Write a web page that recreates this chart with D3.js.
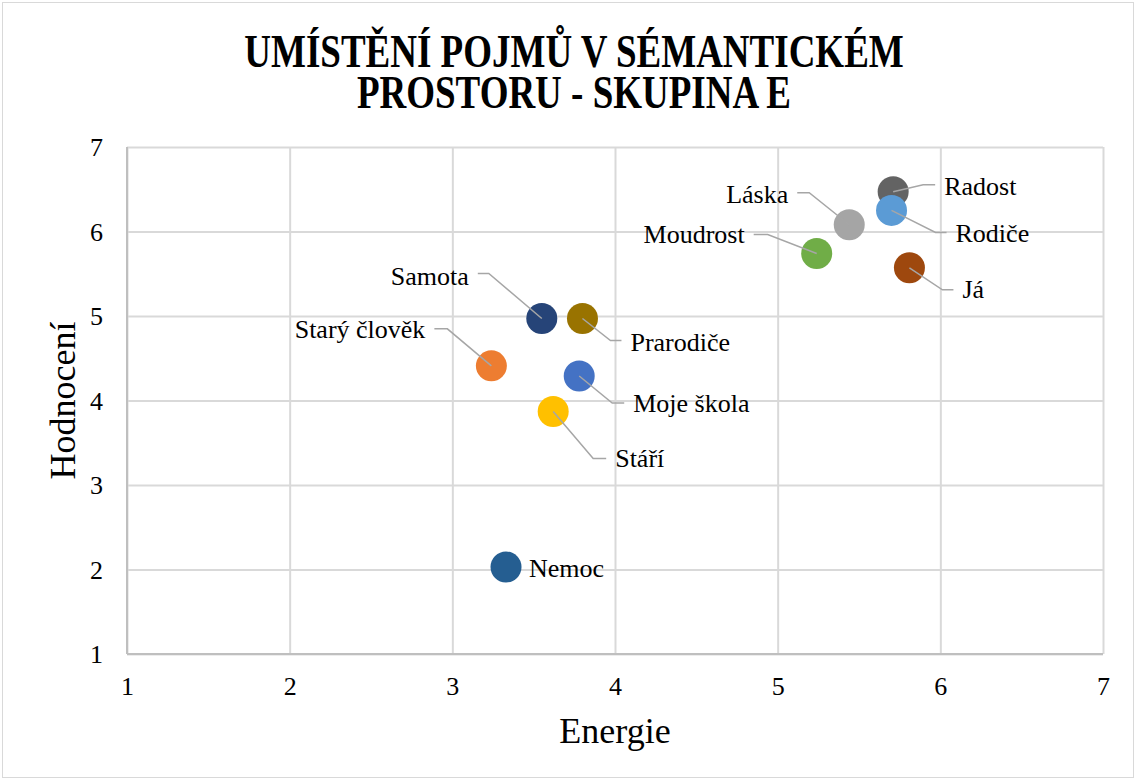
<!DOCTYPE html>
<html>
<head>
<meta charset="utf-8">
<script src="https://d3js.org/d3.v7.min.js"></script>
<style>
  html, body { margin: 0; padding: 0; background: #fff; }
  svg { display: block; }
  text { font-family: "Liberation Serif", "Times New Roman", serif; fill: #000; }
</style>
</head>
<body>
<svg id="chart" width="1136" height="780"></svg>
<script>
// Concepts placed in the semantic space (Energie × Hodnocení)
const concepts = ["Radost", "Rodiče", "Láska", "Moudrost", "Já", "Samota", "Prarodiče", "Starý člověk", "Moje škola", "Stáří", "Nemoc"];
const energie    = [5.71, 5.70, 5.44, 5.24, 5.81, 3.55, 3.80, 3.24, 3.78, 3.62, 3.33];
const hodnoceni  = [6.47, 6.25, 6.08, 5.74, 5.57, 4.97, 4.97, 4.41, 4.29, 3.87, 2.03];
const colors     = ["#636363", "#5b9bd5", "#a5a5a5", "#70ad47", "#9e480e", "#264478", "#997300", "#ed7d31", "#4472c4", "#ffc000", "#255e91"];

const xTicks = [1, 2, 3, 4, 5, 6, 7];
const yTicks = [1, 2, 3, 4, 5, 6, 7];

const titleLines = ["UMÍSTĚNÍ POJMŮ V SÉMANTICKÉM", "PROSTORU - SKUPINA E"];
const xTitle = "Energie";
const yTitle = "Hodnocení";

// Label placement around each marker: side, text offset, leader elbow offset
const labelLayout = [
  { side: "r", tx: 51, ty: 3,  ex: 30,  ey: -7 },
  { side: "r", tx: 64, ty: 32, ex: 44,  ey: 22 },
  { side: "l", tx: -61, ty: -22, ex: -40, ey: -32 },
  { side: "l", tx: -72, ty: -10, ex: -49, ey: -19 },
  { side: "r", tx: 53, ty: 30, ex: 33,  ey: 22 },
  { side: "l", tx: -73, ty: -34, ex: -53, ey: -45 },
  { side: "r", tx: 48, ty: 32, ex: 28,  ey: 22 },
  { side: "l", tx: -66, ty: -28, ex: -44, ey: -37 },
  { side: "r", tx: 54, ty: 36, ex: 33,  ey: 27 },
  { side: "r", tx: 62, ty: 56, ex: 40,  ey: 47 },
  { side: "r", tx: 23, ty: 10, ex: null, ey: null }
];

const svg = d3.select("#chart");
const W = 1136, H = 780;
const plot = { left: 127, right: 1103, top: 147, bottom: 654 };

// Outer chart frame
svg.append("rect")
  .attr("x", 2.5).attr("y", 2.5)
  .attr("width", W - 5).attr("height", H - 5)
  .attr("fill", "#fff").attr("stroke", "#d9d9d9").attr("stroke-width", 1);

const x = d3.scaleLinear().domain([1, 7]).range([plot.left, plot.right]);
const y = d3.scaleLinear().domain([1, 7]).range([plot.bottom, plot.top]);

// Gridlines
const grid = svg.append("g");
grid.append("g")
  .attr("transform", `translate(0,${plot.bottom})`)
  .call(d3.axisBottom(x).tickValues(xTicks).tickSize(-(plot.bottom - plot.top)).tickFormat(""))
  .call(g => g.select(".domain").remove())
  .call(g => g.selectAll("line").attr("stroke", "#d9d9d9").attr("stroke-width", 2));
grid.append("g")
  .attr("transform", `translate(${plot.left},0)`)
  .call(d3.axisLeft(y).tickValues(yTicks).tickSize(-(plot.right - plot.left)).tickFormat(""))
  .call(g => g.select(".domain").remove())
  .call(g => g.selectAll("line").attr("stroke", "#d9d9d9").attr("stroke-width", 2));

// Axis lines
svg.append("line")
  .attr("x1", plot.left).attr("x2", plot.left)
  .attr("y1", plot.top).attr("y2", plot.bottom)
  .attr("stroke", "#bfbfbf").attr("stroke-width", 2);
svg.append("line")
  .attr("x1", plot.left).attr("x2", plot.right)
  .attr("y1", plot.bottom).attr("y2", plot.bottom)
  .attr("stroke", "#bfbfbf").attr("stroke-width", 2);

// Tick labels
const xAxis = svg.append("g")
  .attr("transform", `translate(0,${plot.bottom})`)
  .call(d3.axisBottom(x).tickValues(xTicks).tickSize(0).tickPadding(0).tickFormat(d3.format("d")));
xAxis.select(".domain").remove();
xAxis.selectAll("text")
  .attr("y", 41).attr("dy", null)
  .style("font-family", "'Liberation Serif', serif").style("font-size", "26px").attr("fill", "#000");

const yAxis = svg.append("g")
  .attr("transform", `translate(${plot.left},0)`)
  .call(d3.axisLeft(y).tickValues(yTicks).tickSize(0).tickPadding(0).tickFormat(d3.format("d")));
yAxis.select(".domain").remove();
yAxis.selectAll("text")
  .attr("x", -24).attr("dy", "0.34em")
  .style("font-family", "'Liberation Serif', serif").style("font-size", "26px").attr("fill", "#000");

// Title: two lines in one text element, stretched vertically
const title = svg.append("text")
  .attr("transform", "translate(574,67) scale(1,1.25)")
  .attr("text-anchor", "middle")
  .style("font-size", "37px").style("font-weight", "bold");
titleLines.forEach((t, i) => {
  title.append("tspan")
    .attr("x", 0)
    .attr("y", i * 41 / 1.25)
    .text(t);
});

// Axis titles
svg.append("text")
  .attr("x", (plot.left + plot.right) / 2).attr("y", 743)
  .attr("text-anchor", "middle")
  .style("font-size", "36px")
  .text(xTitle);
svg.append("text")
  .attr("transform", `translate(75,${(plot.top + plot.bottom) / 2}) rotate(-90)`)
  .attr("text-anchor", "middle")
  .style("font-size", "36px")
  .text(yTitle);

const pts = concepts.map((c, i) => ({
  name: c, ex: energie[i], hv: hodnoceni[i], color: colors[i], lay: labelLayout[i]
}));

// Markers
svg.append("g").selectAll("circle")
  .data(pts)
  .join("circle")
  .attr("cx", d => x(d.ex))
  .attr("cy", d => y(d.hv))
  .attr("r", 15.5)
  .attr("fill", d => d.color);

// Leader lines
svg.append("g").selectAll("polyline")
  .data(pts.filter(d => d.lay.ex !== null))
  .join("polyline")
  .attr("fill", "none")
  .attr("stroke", "#a6a6a6")
  .attr("stroke-width", 1.5)
  .attr("points", d => {
    const cx = x(d.ex), cy = y(d.hv);
    const L = d.lay;
    const ex = cx + L.ex, ey = cy + L.ey;
    const endX = L.side === "r" ? cx + L.tx - 9 : cx + L.tx + 9;
    return `${cx},${cy} ${ex},${ey} ${endX},${ey}`;
  });

// Data labels
svg.append("g").selectAll("text")
  .data(pts)
  .join("text")
  .attr("x", d => x(d.ex) + d.lay.tx)
  .attr("y", d => y(d.hv) + d.lay.ty)
  .attr("text-anchor", d => d.lay.side === "r" ? "start" : "end")
  .style("font-size", "26px")
  .text(d => d.name);
</script>
</body>
</html>
